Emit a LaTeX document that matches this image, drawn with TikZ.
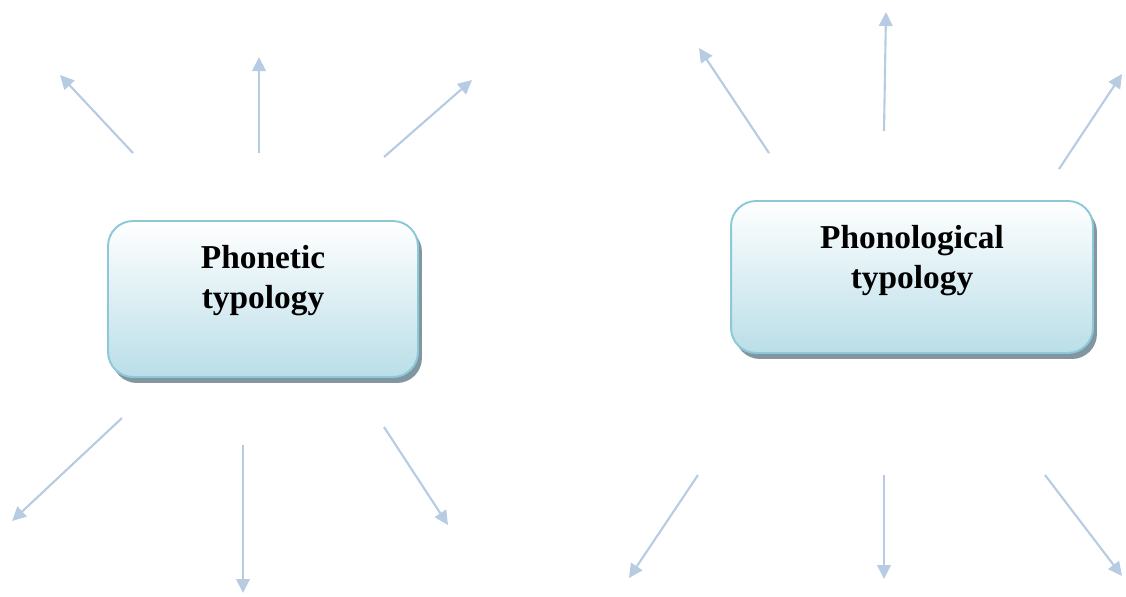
\documentclass[tikz,border=0pt]{standalone}
\usepackage{fontspec}
\setmainfont{Liberation Serif}
\usetikzlibrary{arrows.meta, shadows}
\definecolor{arrowblue}{RGB}{183, 203, 227}
\definecolor{boxborder}{RGB}{140, 200, 216}
\definecolor{boxblue}{RGB}{186, 222, 232}
\definecolor{boxshadow}{RGB}{130, 150, 160}

\begin{document}
\begin{tikzpicture}[
        x=0.02cm, y=-0.02cm,
        topic/.style={rectangle, draw=boxborder, line width=1.1pt, rounded corners=0.5cm,
            top color=white, bottom color=boxblue,
            drop shadow={shadow xshift=0.08cm, shadow yshift=-0.12cm, fill=boxshadow, opacity=1}},
        topictext/.style={align=center, font=\fontsize{19}{22.7}\selectfont\bfseries},
        arrow/.style={-{Triangle[length=0.28cm, width=0.27cm]}, arrowblue, line width=1.2pt}
    ]
        \useasboundingbox (0,0) rectangle (1126,596);

        % Left box
        \node[topic, minimum width=6.2cm, minimum height=3.12cm] (phonetic) at (263,299) {};
        \node[topictext] (phonetictext) at (263,281) {Phonetic\\typology};

        % Right box
        \node[topic, minimum width=7.24cm, minimum height=3.04cm] (phonological) at (912,277) {};
        \node[topictext] (phonologicaltext) at (912,261) {Phonological\\typology};

        % Arrow ends round the left box
        \coordinate (pa1) at (133,153);  \coordinate (pt1) at (60,75);
        \coordinate (pa2) at (259,153);  \coordinate (pt2) at (259,57);
        \coordinate (pa3) at (384,157);  \coordinate (pt3) at (472,80);
        \coordinate (pa4) at (122,418);  \coordinate (pt4) at (12,521);
        \coordinate (pa5) at (243,445);  \coordinate (pt5) at (243,593);
        \coordinate (pa6) at (384,427);  \coordinate (pt6) at (448,525);

        % Arrow ends round the right box
        \coordinate (qa1) at (769,153);  \coordinate (qt1) at (699,48);
        \coordinate (qa2) at (884,131);  \coordinate (qt2) at (886,12);
        \coordinate (qa3) at (1059,169); \coordinate (qt3) at (1122,74);
        \coordinate (qa4) at (698,475);  \coordinate (qt4) at (629,578);
        \coordinate (qa5) at (884,475);  \coordinate (qt5) at (884,579);
        \coordinate (qa6) at (1045,475); \coordinate (qt6) at (1122,576);

        % Arrows
        \foreach \i in {1,...,6} {
            \draw[arrow] (pa\i) -- (pt\i);
            \draw[arrow] (qa\i) -- (qt\i);
        }
    \end{tikzpicture}
\end{document}
